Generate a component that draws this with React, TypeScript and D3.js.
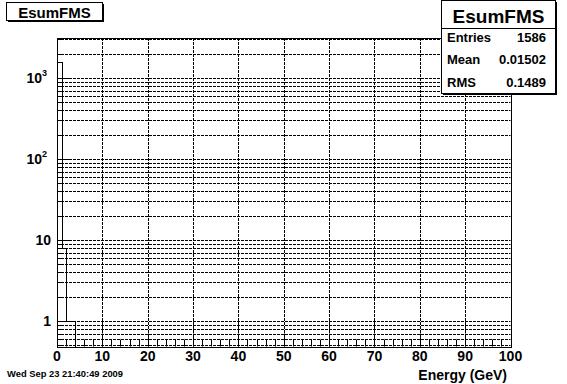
import React from "react";
import * as d3 from "d3";

// ---- data ----
const histTitle = "EsumFMS";
const xAxisTitle = "Energy (GeV)";
const dateText = "Wed Sep 23 21:40:49 2009";
const nBins = 100;
const xRange = [0, 100];
const binCounts = [1576, 8, 1, 1]; // remaining bins are empty
const xTickValues = [0, 10, 20, 30, 40, 50, 60, 70, 80, 90, 100];
const yDecades = [1, 10, 100, 1000];
const yDomain = [0.484, 3120];
const statsLabels = ["Entries", "Mean", "RMS"];
const statsValues = ["1586", "0.01502", "0.1489"];

const W = 567;
const H = 384;
const F = { left: 57, right: 510.5, top: 38, bottom: 346.5 };
const FONT = "'Liberation Sans', Arial, Helvetica, sans-serif";

export default function App() {
  const x = d3.scaleLinear().domain(xRange).range([F.left, F.right]);
  const y = d3.scaleLog().domain(yDomain).range([F.bottom, F.top]);
  const r = (v: number) => Math.round(v) + 0.5;

  // minor ticks for x (every 2)
  const xMinor = d3.range(xRange[0], xRange[1] + 0.001, 2);
  // log ticks 2..9 in each decade within domain
  const yMinor: number[] = [];
  for (let e = -1; e <= 3; e++) {
    for (let m = 1; m <= 9; m++) {
      const v = m * Math.pow(10, e);
      if (v >= yDomain[0] && v <= yDomain[1]) yMinor.push(v);
    }
  }

  // histogram outline
  const binW = (xRange[1] - xRange[0]) / nBins;
  const counts = d3.range(nBins).map((i) => binCounts[i] ?? 0);
  const yv = (c: number) => (c > 0 ? y(Math.max(c, yDomain[0])) : F.bottom);
  let p = `M${x(xRange[0])},${F.bottom}`;
  counts.forEach((c, i) => {
    p += `V${yv(c)}H${x(xRange[0] + (i + 1) * binW)}`;
  });
  p += `V${F.bottom}`;

  const dash = "3,1";
  const supLabel = (v: number) => {
    if (v === 1) return <tspan>1</tspan>;
    if (v === 10) return <tspan>10</tspan>;
    const e = Math.round(Math.log10(v));
    return (
      <>
        <tspan>10</tspan>
        <tspan fontSize={9} dy={-6}>
          {e}
        </tspan>
      </>
    );
  };

  return (
    <svg
      width={W}
      height={H}
      style={{ position: "absolute", left: 0, top: 0, background: "#fff" }}
      fontFamily={FONT}
      fontWeight="bold"
    >
      <rect x={0} y={0} width={W} height={H} fill="#fff" />
      {/* grid */}
      {xTickValues.slice(1, -1).map((v) => (
        <line
          key={"gx" + v}
          x1={r(x(v))}
          x2={r(x(v))}
          y1={F.top}
          y2={F.bottom}
          stroke="#000"
          strokeDasharray={dash}
        />
      ))}
      {yMinor.map((v) => (
        <line
          key={"gy" + v}
          x1={F.left}
          x2={F.right}
          y1={r(y(v))}
          y2={r(y(v))}
          stroke="#000"
          strokeDasharray={dash}
        />
      ))}
      {/* frame */}
      <rect
        x={r(F.left)}
        y={r(F.top)}
        width={Math.round(F.right - F.left)}
        height={Math.round(F.bottom - F.top)}
        fill="none"
        stroke="#000"
      />
      {/* x ticks */}
      {xMinor.map((v) => {
        const major = v % 10 === 0;
        return (
          <line
            key={"tx" + v}
            x1={r(x(v))}
            x2={r(x(v))}
            y1={F.bottom}
            y2={F.bottom - (major ? 13 : 7)}
            stroke="#000"
          />
        );
      })}
      {/* y ticks */}
      {yMinor.map((v) => {
        const major = yDecades.includes(v);
        return (
          <line
            key={"ty" + v}
            x1={F.left}
            x2={F.left + (major ? 13 : 7)}
            y1={r(y(v))}
            y2={r(y(v))}
            stroke="#000"
          />
        );
      })}
      {/* histogram */}
      <path
        d={p}
        fill="none"
        stroke="#000"
        strokeWidth={1}
        transform="translate(0.5,0.5)"
        shapeRendering="crispEdges"
      />
      {/* x labels */}
      {xTickValues.map((v) => (
        <text key={"lx" + v} x={x(v)} y={361} fontSize={14} textAnchor="middle">
          {v}
        </text>
      ))}
      <text x={507} y={380} fontSize={14} textAnchor="end">
        {xAxisTitle}
      </text>
      {/* y labels */}
      {yDecades.map((v) => (
        <text
          key={"ly" + v}
          x={v >= 100 ? 47 : 51}
          y={y(v) + 5}
          fontSize={14}
          textAnchor="end"
        >
          {v >= 100 ? (
            <>
              {"10"}
              <tspan fontSize={9} dy={-7}>
                {Math.round(Math.log10(v))}
              </tspan>
            </>
          ) : (
            supLabel(v)
          )}
        </text>
      ))}
      {/* title box */}
      <line x1={103.5} x2={103.5} y1={4} y2={22} stroke="#000" />
      <line x1={8} x2={104} y1={21.5} y2={21.5} stroke="#000" />
      <rect x={6.5} y={2.5} width={96} height={18} fill="#fff" stroke="#000" />
      <text x={54.5} y={17.5} fontSize={15} textAnchor="middle">
        {histTitle}
      </text>
      {/* stats box */}
      <line x1={556.5} x2={556.5} y1={2} y2={95} stroke="#000" />
      <line x1={443} x2={557} y1={94.5} y2={94.5} stroke="#000" />
      <rect x={441.5} y={0.5} width={114} height={93} fill="#fff" stroke="#000" />
      <line x1={441.5} x2={555.5} y1={28.5} y2={28.5} stroke="#000" />
      <text x={498.5} y={23} fontSize={19} textAnchor="middle">
        {histTitle}
      </text>
      {statsLabels.map((l, i) => (
        <g key={l}>
          <text x={447} y={41.5 + i * 22.5} fontSize={13}>
            {l}
          </text>
          <text x={546} y={41.5 + i * 22.5} fontSize={13} textAnchor="end">
            {statsValues[i]}
          </text>
        </g>
      ))}
      {/* date */}
      <text x={7} y={377} fontSize={9.4}>
        {dateText}
      </text>
    </svg>
  );
}
